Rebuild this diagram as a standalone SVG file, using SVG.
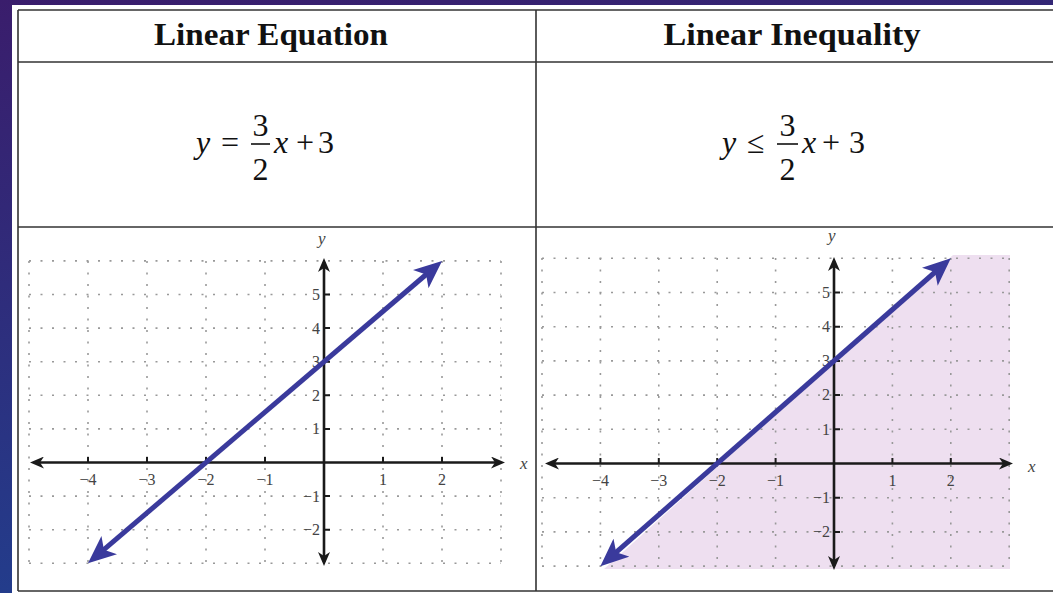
<svg xmlns="http://www.w3.org/2000/svg" width="1053" height="593" viewBox="0 0 1053 593">
<defs>
<linearGradient id="bg" x1="0" y1="0" x2="0.3" y2="1">
<stop offset="0" stop-color="#3a1d6c"/>
<stop offset="1" stop-color="#213f8e"/>
</linearGradient>
<marker id="ah" viewBox="0 0 14 12" markerWidth="14" markerHeight="12" refX="10" refY="6" orient="auto-start-reverse" markerUnits="userSpaceOnUse">
<path d="M0,0 L14,6 L0,12 L4,6 z" fill="#1a1a1a"/>
</marker>
<marker id="bh" viewBox="0 0 28 24" markerWidth="28" markerHeight="24" refX="14" refY="12" orient="auto-start-reverse" markerUnits="userSpaceOnUse">
<path d="M0,0 L28,12 L0,24 L7,12 z" fill="#3a3a9c"/>
</marker>
<style>
.cell{fill:none;stroke:#333;stroke-width:1.6}
.hdr{font-family:"Liberation Serif","Times New Roman",serif;font-weight:bold;font-size:31px;fill:#111;text-anchor:middle}
.eq{font-family:"Liberation Serif","Times New Roman",serif;font-size:32px;fill:#111}
.it{font-style:italic}
.grid{stroke:#999;stroke-width:1.6;stroke-dasharray:2 9.5;fill:none}
.axis{stroke:#1a1a1a;stroke-width:2.6;fill:none}
.tick{stroke:#1a1a1a;stroke-width:2;fill:none}
.lbl{font-family:"Liberation Serif","Times New Roman",serif;font-size:16px;fill:#444}
.xl{text-anchor:middle}
.yl{text-anchor:end}
.var{font-family:"Liberation Serif","Times New Roman",serif;font-size:17px;font-style:italic;fill:#444}
.line{stroke:#3a3a9c;stroke-width:5;fill:none}
</style>
</defs>
<rect x="0" y="0" width="1053" height="593" fill="url(#bg)"/>
<rect x="12" y="5" width="1041" height="588" fill="#ffffff"/>

<g id="table">
<line class="cell" x1="18" y1="10" x2="1053" y2="10"/>
<line class="cell" x1="18" y1="62" x2="1053" y2="62"/>
<line class="cell" x1="18" y1="227" x2="1053" y2="227"/>
<line class="cell" x1="18" y1="591" x2="1053" y2="591"/>
<line class="cell" x1="18" y1="10" x2="18" y2="591"/>
<line class="cell" x1="536" y1="10" x2="536" y2="591"/>
</g>

<g id="header-equation">
<text class="hdr" x="271" y="45" textLength="234" lengthAdjust="spacingAndGlyphs">Linear Equation</text>
</g>
<g id="header-inequality">
<text class="hdr" x="792" y="45" textLength="257" lengthAdjust="spacingAndGlyphs">Linear Inequality</text>
</g>

<g id="equation">
<text class="eq it" x="196" y="153">y</text>
<text class="eq" x="221" y="153">=</text>
<text class="eq" x="260.5" y="136" text-anchor="middle">3</text>
<line x1="251" y1="144" x2="270" y2="144" stroke="#111" stroke-width="1.6"/>
<text class="eq" x="260.5" y="180" text-anchor="middle">2</text>
<text class="eq it" x="274" y="153">x</text>
<text class="eq" x="296" y="153">+</text>
<text class="eq" x="318" y="153">3</text>
</g>

<g id="inequality">
<text class="eq it" x="722" y="153">y</text>
<text class="eq" x="747" y="153">≤</text>
<text class="eq" x="787.5" y="136" text-anchor="middle">3</text>
<line x1="777" y1="144" x2="798" y2="144" stroke="#111" stroke-width="1.6"/>
<text class="eq" x="787.5" y="180" text-anchor="middle">2</text>
<text class="eq it" x="802" y="153">x</text>
<text class="eq" x="822" y="153">+</text>
<text class="eq" x="849" y="153">3</text>
</g>

<g id="graph-equation">
<g class="grid">
<path d="M29,261V563 M88,261V563 M147,261V563 M206,261V563 M265,261V563 M383,261V563 M442,261V563 M501,261V563"/>
<path d="M29,260.9H501 M29,294.5H501 M29,328.1H501 M29,361.7H501 M29,395.3H501 M29,428.9H501 M29,496.1H501 M29,529.7H501 M29,563.3H501"/>
</g>
<line class="axis" x1="34" y1="462.5" x2="501" y2="462.5" marker-start="url(#ah)" marker-end="url(#ah)"/>
<line class="axis" x1="324" y1="262" x2="324" y2="562" marker-start="url(#ah)" marker-end="url(#ah)"/>
<path class="tick" d="M88,457V462 M147,457V462 M206,457V462 M265,457V462 M383,457V462 M442,457V462"/>
<path class="tick" d="M324,294.5H330 M324,328.1H330 M324,361.7H330 M324,395.3H330 M324,428.9H330 M324,496.1H330 M324,529.7H330"/>
<text class="lbl xl" x="88" y="485">−4</text>
<text class="lbl xl" x="147" y="485">−3</text>
<text class="lbl xl" x="206" y="485">−2</text>
<text class="lbl xl" x="265" y="485">−1</text>
<text class="lbl xl" x="383" y="485">1</text>
<text class="lbl xl" x="442" y="485">2</text>
<text class="lbl yl" x="320" y="300">5</text>
<text class="lbl yl" x="320" y="333.5">4</text>
<text class="lbl yl" x="320" y="367">3</text>
<text class="lbl yl" x="320" y="400.5">2</text>
<text class="lbl yl" x="320" y="434">1</text>
<text class="lbl yl" x="320" y="501.5">−1</text>
<text class="lbl yl" x="320" y="535">−2</text>
<text class="var" x="520" y="469">x</text>
<text class="var" x="318" y="244">y</text>
<line class="line" x1="98.6" y1="554.2" x2="431.4" y2="270" marker-start="url(#bh)" marker-end="url(#bh)"/>
</g>

<g id="graph-inequality">
<polygon points="604,569 953,255 1010,255 1010,569" fill="#eedff0"/>
<g class="grid">
<path d="M542,258V566 M600.4,258V566 M658.8,258V566 M717.2,258V566 M775.6,258V566 M892.4,258V566 M950.8,258V566 M1009.2,258V566"/>
<path d="M542,258.3H1009 M542,292.5H1009 M542,326.7H1009 M542,360.9H1009 M542,395.1H1009 M542,429.3H1009 M542,497.7H1009 M542,531.9H1009 M542,566.1H1009"/>
</g>
<line class="axis" x1="549" y1="463.5" x2="1009" y2="463.5" marker-start="url(#ah)" marker-end="url(#ah)"/>
<line class="axis" x1="834" y1="261" x2="834" y2="566" marker-start="url(#ah)" marker-end="url(#ah)"/>
<path class="tick" d="M600.4,458V463 M658.8,458V463 M717.2,458V463 M775.6,458V463 M892.4,458V463 M950.8,458V463"/>
<path class="tick" d="M834,292.5H840 M834,326.7H840 M834,360.9H840 M834,395.1H840 M834,429.3H840 M834,497.7H840 M834,531.9H840"/>
<text class="lbl xl" x="600.4" y="486">−4</text>
<text class="lbl xl" x="658.8" y="486">−3</text>
<text class="lbl xl" x="717.2" y="486">−2</text>
<text class="lbl xl" x="775.6" y="486">−1</text>
<text class="lbl xl" x="892.4" y="486">1</text>
<text class="lbl xl" x="950.8" y="486">2</text>
<text class="lbl yl" x="830" y="298">5</text>
<text class="lbl yl" x="830" y="332">4</text>
<text class="lbl yl" x="830" y="366">3</text>
<text class="lbl yl" x="830" y="400">2</text>
<text class="lbl yl" x="830" y="434.5">1</text>
<text class="lbl yl" x="830" y="503">−1</text>
<text class="lbl yl" x="830" y="537">−2</text>
<text class="var" x="1028" y="472">x</text>
<text class="var" x="828" y="241">y</text>
<line class="line" x1="610.9" y1="556.9" x2="940.3" y2="267.5" marker-start="url(#bh)" marker-end="url(#bh)"/>
</g>
</svg>
